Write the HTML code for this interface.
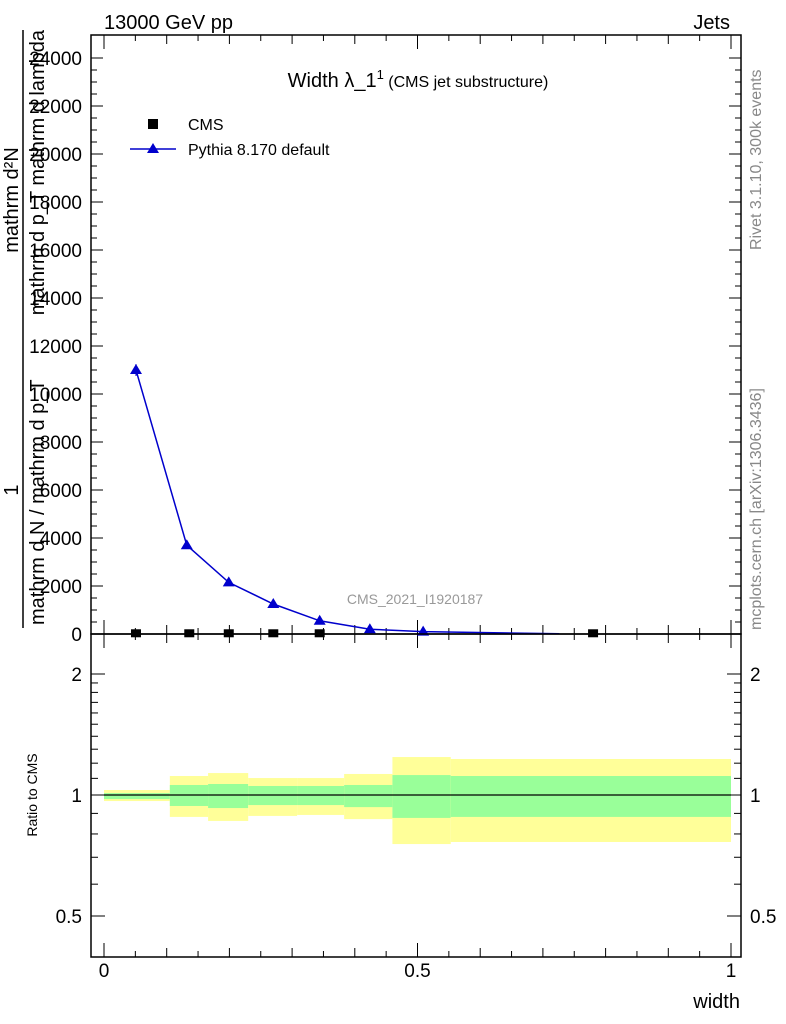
<!DOCTYPE html>
<html><head><meta charset="utf-8"><style>
body{margin:0;background:#fff}
svg{display:block;font-family:"Liberation Sans",sans-serif}
</style></head><body>
<svg id="c" width="786" height="1024" viewBox="0 0 786 1024">
<text x="104" y="29" font-size="20">13000 GeV pp</text>
<text x="730" y="29" font-size="20" text-anchor="end">Jets</text>
<g fill="#888" font-size="16">
<text transform="translate(761,250) rotate(-90)">Rivet 3.1.10,  300k events</text>
<text transform="translate(761,630) rotate(-90)">mcplots.cern.ch [arXiv:1306.3436]</text>
</g>
<g font-size="20">
<text transform="translate(18,200) rotate(-90)" text-anchor="middle">mathrm d²N</text>
<text transform="translate(18,490) rotate(-90)" text-anchor="middle">1</text>
<line x1="23" y1="30" x2="23" y2="628" stroke="#000" stroke-width="1.5"/>
<text transform="translate(44,30) rotate(-90)" text-anchor="end">mathrm d p_T mathrm d lambda</text>
<text transform="translate(44,625) rotate(-90)">mathrm d N / mathrm d p_T</text>
</g>
<text x="418" y="87" font-size="20" text-anchor="middle">Width λ_1<tspan font-size="13" dy="-8">1</tspan><tspan font-size="16" dy="8"> (CMS jet substructure)</tspan></text>
<g>
<rect x="148" y="119" width="10" height="10" fill="#000"/>
<text x="188" y="130" font-size="16">CMS</text>
<line x1="130" y1="149" x2="176" y2="149" stroke="#00c" stroke-width="1.5"/>
<polygon points="153,143 159,153 147,153" fill="#00c"/>
<text x="188" y="155" font-size="16">Pythia 8.170 default</text>
</g>
<text x="415" y="604" font-size="14" fill="#999" text-anchor="middle">CMS_2021_I1920187</text>
<g id="main"></g>
<g id="ratio"></g>
<text x="740" y="1008" font-size="20" text-anchor="end">width</text>
<text transform="translate(37,795) rotate(-90)" font-size="14" text-anchor="middle">Ratio to CMS</text>
</svg>
<script>
const yTicks=[0,2000,4000,6000,8000,10000,12000,14000,16000,18000,20000,22000,24000];
const xTickLabels=[0,0.5,1];
const pyX=[0.051,0.132,0.199,0.270,0.344,0.424,0.509,0.726];
const pyY=[11000,3700,2150,1250,550,200,100,10];
const cmsX=[0.051,0.136,0.199,0.270,0.344,0.78];
const cmsY=[30,30,30,30,30,30];
const binEdges=[0,0.105,0.166,0.230,0.308,0.383,0.460,0.553,1.0];
const yellowHi=[1.029,1.115,1.134,1.102,1.102,1.128,1.243,1.229];
const yellowLo=[0.966,0.882,0.862,0.887,0.892,0.871,0.755,0.764];
const greenHi=[1.011,1.059,1.065,1.053,1.053,1.059,1.121,1.115];
const greenLo=[0.977,0.939,0.928,0.944,0.944,0.933,0.877,0.882];
const ratioTicks=[0.5,1,2];
const NS="http://www.w3.org/2000/svg";
const L=91,R=741,T=35,B=634,RT=634,RB=957;
const X=v=>104+v*627;
const Y=v=>634-v*(576/24000);
const RY=v=>795-Math.log2(v)*121;
function mk(tag,attrs,parent){const e=document.createElementNS(NS,tag);for(const k in attrs)e.setAttribute(k,attrs[k]);parent.appendChild(e);return e;}
const main=document.getElementById('main'),ratio=document.getElementById('ratio');
for(let i=0;i<binEdges.length-1;i++){
 const y=mk('rect',{x:X(binEdges[i]),y:RY(yellowHi[i]),width:X(binEdges[i+1])-X(binEdges[i]),height:RY(yellowLo[i])-RY(yellowHi[i]),fill:'#ffff99'},ratio);
 
 
 const g=mk('rect',{x:X(binEdges[i]),y:RY(greenHi[i]),width:X(binEdges[i+1])-X(binEdges[i]),height:RY(greenLo[i])-RY(greenHi[i]),fill:'#99ff99'},ratio);
 
 
}
const rl=mk('line',{x1:X(0),x2:X(1),y1:RY(1),y2:RY(1),stroke:'#000','stroke-width':1.2},ratio);


const f1=mk('rect',{x:L,y:T,width:R-L,height:B-T,fill:'none',stroke:'#000','stroke-width':1.5},main);


const f2=mk('rect',{x:L,y:RT,width:R-L,height:RB-RT,fill:'none',stroke:'#000','stroke-width':1.5},ratio);


for(let v=0;v<=24000;v+=500){const big=v%2000===0,len=big?12:6;
 mk('line',{x1:L,x2:L+len,y1:Y(v),y2:Y(v),stroke:'#000'},main);
 mk('line',{x1:R,x2:R-len,y1:Y(v),y2:Y(v),stroke:'#000'},main);}
yTicks.forEach(v=>{const t=mk('text',{x:82,y:Y(v)+7,'font-size':19,'text-anchor':'end'},main);t.textContent=v;
 
 });
for(let i=0;i<=20;i++){const v=i*0.05,big=i%10===0,len=big?14:(i%2===0?9:6);
 [[B,-1],[RB,-1]].forEach(([b,s])=>mk('line',{x1:X(v),x2:X(v),y1:b,y2:b+s*len,stroke:'#000'},main));
 mk('line',{x1:X(v),x2:X(v),y1:T,y2:T+len,stroke:'#000'},main);
 mk('line',{x1:X(v),x2:X(v),y1:RT,y2:RT+len,stroke:'#000'},main);}
xTickLabels.forEach(v=>{const t=mk('text',{x:X(v),y:977,'font-size':19,'text-anchor':'middle'},ratio);t.textContent=v;
 
 });
[0.5,0.6,0.7,0.8,0.9,1,1.1,1.2,1.3,1.4,1.5,1.6,1.7,1.8,1.9,2].forEach(v=>{const big=ratioTicks.includes(v),len=big?14:7;
 mk('line',{x1:L,x2:L+len,y1:RY(v),y2:RY(v),stroke:'#000'},ratio);
 mk('line',{x1:R,x2:R-len,y1:RY(v),y2:RY(v),stroke:'#000'},ratio);});
ratioTicks.forEach(v=>{const t=mk('text',{x:82,y:RY(v)+7,'font-size':19,'text-anchor':'end'},ratio);t.textContent=v;
 
 
 const t2=mk('text',{x:750,y:RY(v)+7,'font-size':19},ratio);t2.textContent=v;
 
 });
const pl=mk('polyline',{points:pyX.map((x,i)=>X(x)+','+Y(pyY[i])).join(' '),fill:'none',stroke:'#00c','stroke-width':1.5},main);


pyX.slice(0,7).forEach((x,i)=>{const cx=X(x),cy=Y(pyY[i]);
 const p=mk('polygon',{points:`${cx},${cy-6} ${cx+6},${cy+4} ${cx-6},${cy+4}`,fill:'#00c'},main);
 
 });
mk('line',{x1:X(pyX[0]),x2:X(pyX[0]),y1:Y(pyY[0])-6,y2:Y(pyY[0])+6,stroke:'#00c'},main);
cmsX.forEach((x,i)=>{const r=mk('rect',{x:X(x)-5,y:Y(cmsY[i])-4,width:10,height:8,fill:'#000'},main);
 
 });
</script>
</body></html>
